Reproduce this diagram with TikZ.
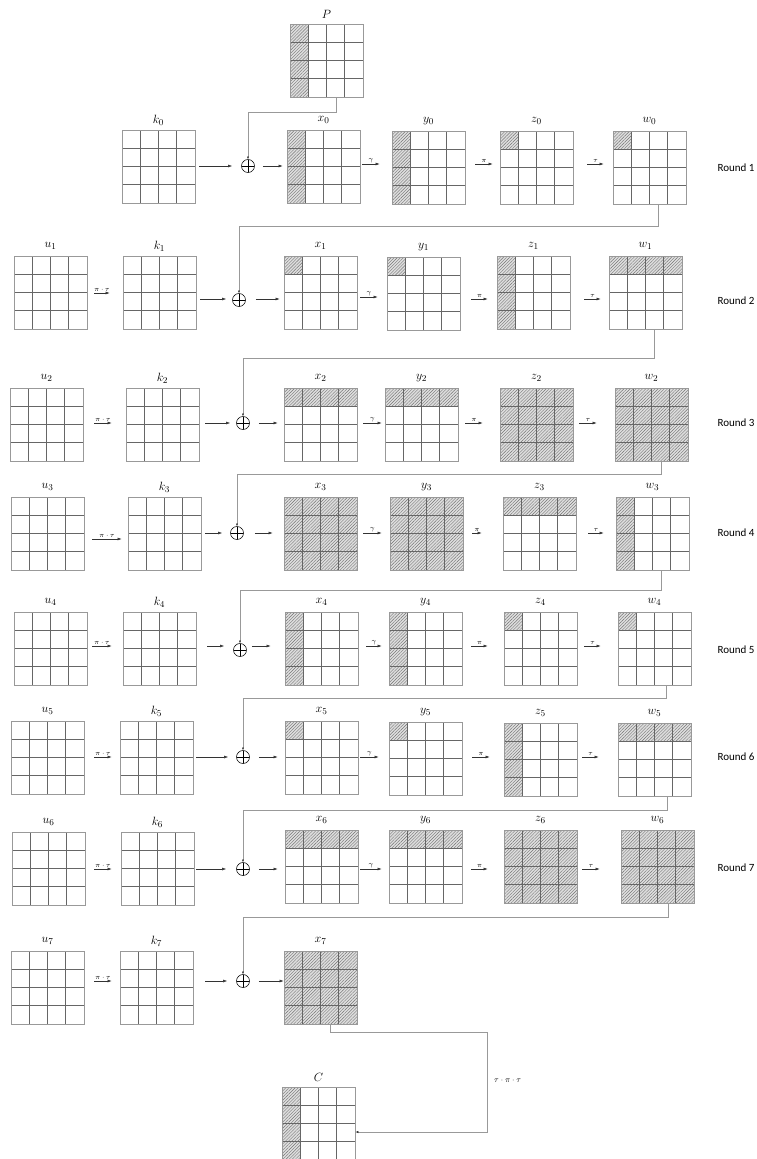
\documentclass[tikz,border=0pt]{standalone}
\usepackage{fontspec}
\newfontfamily\carlito{Carlito}
\usetikzlibrary{arrows.meta,patterns.meta,calc}
\tikzset{
  hatch/.style={fill=black!13, postaction={pattern={Lines[angle=45,distance=2.2pt,line width=0.4pt]}, pattern color=black!55}},
  gridin/.style={draw=black!60, line width=0.6pt},
  matbox/.style={draw=black!40, line width=0.6pt, minimum size=73pt, inner sep=0pt, fill=none},
  lab/.style={font=\fontsize{12.5}{14}\selectfont, inner sep=0pt},
  arr/.style={draw=black!80, line width=0.5pt, -{Latex[length=4pt,width=2.8pt]}},
  alab/.style={midway, above, font=\scriptsize, inner sep=1.2pt},
  conn/.style={draw=black!40, line width=0.7pt},
  vtip/.style={-{Latex[length=2.5pt,width=2pt,color=black!85]}},
  ctip/.style={-{Latex[length=3pt,width=2.2pt,color=black!85]}},
  oplus/.style={circle, draw=black, line width=0.55pt, minimum size=13pt, inner sep=0pt,
    path picture={\draw[line width=0.55pt] (path picture bounding box.north) -- (path picture bounding box.south)
      (path picture bounding box.west) -- (path picture bounding box.east);}},
  roundlab/.style={font=\carlito\fontsize{11}{13}\selectfont, inner sep=0pt},
  oplab/.style={font=\footnotesize, inner sep=0pt}
}
% #1 name, #2 x, #3 y (top-left), #4 type (0 none,1 col,2 row,3 cell,4 all), #5 label
\newcommand{\drawmat}[5]{%
  \begin{scope}[shift={(#2,#3)}]
    \ifcase#4\relax
    \or \fill[hatch] (0,0) rectangle (18.25,73);
    \or \fill[hatch] (0,0) rectangle (73,18.25);
    \or \fill[hatch] (0,0) rectangle (18.25,18.25);
    \or \fill[hatch] (0,0) rectangle (73,73);
    \fi
    \foreach \i in {1,2,3}{
      \draw[gridin] ({\i*18.25},0) -- ({\i*18.25},73);
      \draw[gridin] (0,{\i*18.25}) -- (73,{\i*18.25});
    }
    \node[matbox] (#1) at (36.5,36.5) {};
    \node[lab] (#1-l) at (36.5,-10) {$#5$};
  \end{scope}}
% labelled arrow: from, to, start gap, end gap, label, row node, canvas yshift
\newcommand{\harr}[7]{\draw[arr] ([xshift=#3pt,yshift=#7pt]#1.east |- #6) -- node[alab]{$#5$} ([xshift=-#4pt,yshift=#7pt]#2.west |- #6);}
% plain arrow
\newcommand{\harrn}[6]{\draw[arr] ([xshift=#3pt,yshift=#6pt]#1.east |- #5) -- ([xshift=-#4pt,yshift=#6pt]#2.west |- #5);}
\begin{document}
\begin{tikzpicture}[x=1pt,y=-1pt]
\useasboundingbox (0,0) rectangle (757,1159);
\fill[white] (0,0) rectangle (757,1159);

% ---------- Round 1
\drawmat{P}{290}{24}{1}{P}
\drawmat{k0}{122}{130}{0}{k_0}
\drawmat{x0}{287}{130}{1}{x_0}
\drawmat{y0}{392}{131}{1}{y_0}
\drawmat{z0}{500}{131}{3}{z_0}
\drawmat{w0}{613}{131}{3}{w_0}
\node[oplus] (p0) at (248,166) {};
\harrn{k0}{p0}{4}{9}{p0}{0}
\harrn{p0}{x0}{8}{4}{p0}{0}
\harr{x0}{y0}{2}{12}{\gamma}{p0}{2}
\harr{y0}{z0}{10}{7}{\pi}{p0}{2}
\harr{z0}{w0}{14}{9}{\tau}{p0}{2}
\draw[conn,vtip] ([xshift=9.5pt]P.south) -- ++(0,15) -| (p0.north);
\node[roundlab] (r1) at (736,168) {Round 1};

% ---------- Round 2
\drawmat{u1}{14}{256}{0}{u_1}
\drawmat{k1}{123}{256}{0}{k_1}
\drawmat{x1}{284}{256}{3}{x_1}
\drawmat{y1}{387}{257}{3}{y_1}
\drawmat{z1}{497}{256}{1}{z_1}
\drawmat{w1}{609}{256}{2}{w_1}
\node[oplus] (p1) at (239,300) {};
\harr{u1}{k1}{7}{13}{\pi\cdot\tau}{p1}{7}
\harrn{k1}{p1}{4}{6}{p1}{1}
\harrn{p1}{x1}{10}{4}{p1}{1}
\harr{x1}{y1}{3}{9}{\gamma}{p1}{3}
\harr{y1}{z1}{11}{9}{\pi}{p1}{1}
\harr{z1}{w1}{14}{8}{\tau}{p1}{1}
\draw[conn,vtip] ([xshift=8.5pt]w0.south) -- ++(0,22) -| (p1.north);
\node[roundlab] (r2) at (736,301) {Round 2};

% ---------- Round 3
\drawmat{u2}{10}{388}{0}{u_2}
\drawmat{k2}{126}{388}{0}{k_2}
\drawmat{x2}{284}{388}{2}{x_2}
\drawmat{y2}{385}{388}{2}{y_2}
\drawmat{z2}{500}{388}{4}{z_2}
\drawmat{w2}{615}{388}{4}{w_2}
\node[oplus] (p2) at (243,423) {};
\harr{u2}{k2}{11}{14}{\pi\cdot\tau}{p2}{0}
\harrn{k2}{p2}{6}{6}{p2}{0}
\harrn{p2}{x2}{9}{6}{p2}{0}
\harr{x2}{y2}{6}{3}{\gamma}{p2}{0}
\harr{y2}{z2}{7}{17}{\pi}{p2}{0}
\harr{z2}{w2}{6}{18}{\tau}{p2}{0}
\draw[conn,vtip] ([xshift=8.5pt]w1.south) -- ++(0,29) -| (p2.north);
\node[roundlab] (r3) at (736,423) {Round 3};

% ---------- Round 4
\drawmat{u3}{11}{497}{0}{u_3}
\drawmat{k3}{128}{497}{0}{k_3}
\drawmat{x3}{284}{497}{4}{x_3}
\drawmat{y3}{390}{497}{4}{y_3}
\drawmat{z3}{503}{497}{2}{z_3}
\drawmat{w3}{616}{497}{1}{w_3}
\node[oplus] (p3) at (237,533) {};
\harr{u3}{k3}{8}{6}{\pi\cdot\tau}{p3}{-6}
\harrn{k3}{p3}{4}{8}{p3}{0}
\harrn{p3}{x3}{11}{11}{p3}{0}
\harr{x3}{y3}{6}{8}{\gamma}{p3}{0}
\harr{y3}{z3}{9}{21}{\pi}{p3}{0}
\harr{z3}{w3}{12}{12}{\tau}{p3}{0}
\draw[conn,vtip] ([xshift=9.5pt]w2.south) -- ++(0,13) -| (p3.north);
\node[roundlab] (r4) at (736,533) {Round 4};

% ---------- Round 5
\drawmat{u4}{14}{612}{0}{u_4}
\drawmat{k4}{123}{612}{0}{k_4}
\drawmat{x4}{285}{612}{1}{x_4}
\drawmat{y4}{389}{612}{1}{y_4}
\drawmat{z4}{504}{612}{3}{z_4}
\drawmat{w4}{618}{612}{3}{w_4}
\node[oplus] (p4) at (240,650) {};
\harr{u4}{k4}{5}{11}{\pi\cdot\tau}{p4}{4}
\harrn{k4}{p4}{11}{9}{p4}{4}
\harrn{p4}{x4}{5}{14}{p4}{4}
\harr{x4}{y4}{8}{7}{\gamma}{p4}{4}
\harr{y4}{z4}{9}{16}{\pi}{p4}{4}
\harr{z4}{w4}{7}{17}{\tau}{p4}{4}
\draw[conn,vtip] ([xshift=8.5pt]w3.south) -- ++(0,20) -| (p4.north);
\node[roundlab] (r5) at (736,650) {Round 5};

% ---------- Round 6
\drawmat{u5}{11}{721}{0}{u_5}
\drawmat{k5}{120}{721}{0}{k_5}
\drawmat{x5}{285}{721}{3}{x_5}
\drawmat{y5}{389}{722}{3}{y_5}
\drawmat{z5}{504}{723}{1}{z_5}
\drawmat{w5}{618}{723}{2}{w_5}
\node[oplus] (p5) at (243,757) {};
\harr{u5}{k5}{10}{8}{\pi\cdot\tau}{p5}{0}
\harrn{k5}{p5}{3}{8}{p5}{0}
\harrn{p5}{x5}{9}{7}{p5}{0}
\harr{x5}{y5}{2}{10}{\gamma}{p5}{0}
\harr{y5}{z5}{10}{14}{\pi}{p5}{0}
\harr{z5}{w5}{5}{19}{\tau}{p5}{0}
\draw[conn,vtip] ([xshift=12pt]w4.south) -- ++(0,13) -| (p5.north);
\node[roundlab] (r6) at (736,757) {Round 6};

% ---------- Round 7
\drawmat{u6}{12}{832}{0}{u_6}
\drawmat{k6}{121}{832}{0}{k_6}
\drawmat{x6}{285}{830}{2}{x_6}
\drawmat{y6}{389}{830}{2}{y_6}
\drawmat{z6}{504}{830}{4}{z_6}
\drawmat{w6}{621}{830}{4}{w_6}
\node[oplus] (p6) at (243,869) {};
\harr{u6}{k6}{9}{9}{\pi\cdot\tau}{p6}{0}
\harrn{k6}{p6}{2}{10}{p6}{0}
\harrn{p6}{x6}{9}{7}{p6}{0}
\harr{x6}{y6}{2}{7}{\gamma}{p6}{0}
\harr{y6}{z6}{9}{16}{\pi}{p6}{0}
\harr{z6}{w6}{5}{21}{\tau}{p6}{0}
\draw[conn,vtip] ([xshift=13pt]w5.south) -- ++(0,14) -| (p6.north);
\node[roundlab] (r7) at (736,868) {Round 7};

% ---------- final
\drawmat{u7}{11}{951}{0}{u_7}
\drawmat{k7}{120}{951}{0}{k_7}
\drawmat{x7}{284}{951}{4}{x_7}
\node[oplus] (p7) at (243,981) {};
\harr{u7}{k7}{10}{8}{\pi\cdot\tau}{p7}{0}
\harrn{k7}{p7}{12}{9}{p7}{0}
\harrn{p7}{x7}{9}{0}{p7}{0}
\draw[conn,vtip] ([xshift=10.5pt]w6.south) -- ++(0,14) -| (p7.north);

\drawmat{C}{282}{1087}{1}{C}
\draw[conn,ctip] ([xshift=9.5pt]x7.south) -- ++(0,8) -- ++(157,0) |- ([yshift=-8.5pt]C.east);
\node[oplab, anchor=west] (tpt) at (494,1081) {$\tau\cdot\pi\cdot\tau$};
\end{tikzpicture}
\end{document}
